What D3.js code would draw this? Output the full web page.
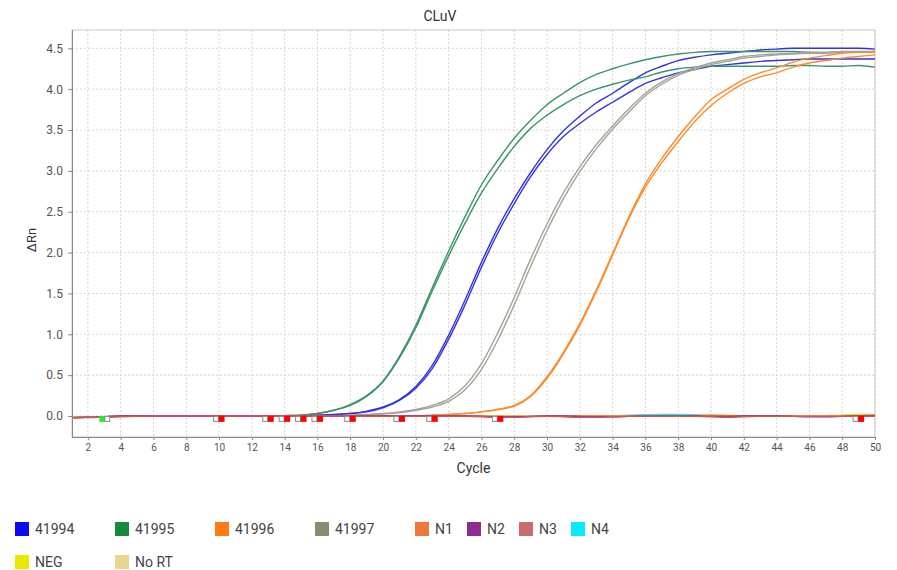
<!DOCTYPE html>
<html>
<head>
<meta charset="utf-8">
<script src="https://cdn.jsdelivr.net/npm/d3@7"></script>
<style>
  html, body { margin: 0; padding: 0; background: #fff; }
  svg { display: block; font-family: Roboto, "Liberation Sans", sans-serif; }
</style>
</head>
<body>
<svg id="chart" width="897" height="570"></svg>
<script>
// ---------- DATA ----------
const cycles = [1,2,3,4,5,6,7,8,9,10,11,12,13,14,15,16,17,18,19,20,21,22,23,24,25,26,27,28,29,30,31,32,33,34,35,36,37,38,39,40,41,42,43,44,45,46,47,48,49,50];
const xTickValues = [2,4,6,8,10,12,14,16,18,20,22,24,26,28,30,32,34,36,38,40,42,44,46,48,50];
const yTickValues = [0,0.5,1,1.5,2,2.5,3,3.5,4,4.5];

const s41994a = [-0.02,-0.015,-0.01,0,0,0,0,0,0,0, 0,0,0,0,0.005,0.01,0.02,0.03,0.06,0.11, 0.2,0.36,0.62,0.99,1.42,1.88,2.3,2.66,2.98,3.26, 3.49,3.67,3.83,3.95,4.08,4.2,4.28,4.35,4.39,4.42, 4.44,4.46,4.48,4.49,4.5,4.5,4.5,4.5,4.5,4.49];
const s41994b = [-0.02,-0.015,-0.01,0,0,0,0,0,0,0, 0,0,0,0,0.005,0.01,0.015,0.03,0.05,0.1, 0.19,0.34,0.58,0.94,1.36,1.82,2.24,2.6,2.93,3.2, 3.42,3.58,3.72,3.84,3.96,4.07,4.14,4.2,4.24,4.28, 4.3,4.32,4.34,4.35,4.36,4.37,4.37,4.37,4.37,4.37];
const s41995a = [-0.02,-0.015,-0.01,0,0,0,0,0,0,0, 0,0,0,0.005,0.01,0.03,0.07,0.14,0.25,0.43, 0.73,1.11,1.57,2.02,2.44,2.83,3.13,3.4,3.62,3.81, 3.95,4.08,4.18,4.25,4.31,4.36,4.4,4.43,4.45,4.46, 4.46,4.46,4.46,4.46,4.46,4.45,4.45,4.45,4.45,4.45];
const s41995b = [-0.02,-0.015,-0.01,0,0,0,0,0,0,0, 0,0,0,0.005,0.01,0.03,0.07,0.13,0.24,0.42, 0.71,1.08,1.53,1.96,2.36,2.73,3.03,3.3,3.52,3.68, 3.81,3.92,4.0,4.06,4.11,4.15,4.21,4.25,4.27,4.28, 4.28,4.28,4.28,4.28,4.29,4.29,4.28,4.28,4.29,4.27];
const s41996a = [-0.02,-0.015,-0.01,0,0,0,0,0,0,0, 0,0,0,0,0,0,0,0,0,0, 0,0,0.01,0.02,0.03,0.05,0.08,0.13,0.25,0.48, 0.78,1.13,1.54,1.99,2.44,2.84,3.15,3.42,3.66,3.87, 4.0,4.12,4.2,4.26,4.33,4.38,4.41,4.44,4.45,4.46];
const s41996b = [-0.02,-0.015,-0.01,0,0,0,0,0,0,0, 0,0,0,0,0,0,0,0,0,0, 0,0,0.01,0.02,0.03,0.05,0.08,0.12,0.24,0.46, 0.76,1.11,1.52,1.97,2.42,2.8,3.1,3.36,3.6,3.8, 3.95,4.07,4.15,4.2,4.27,4.32,4.35,4.38,4.4,4.42];
const s41997a = [-0.02,-0.015,-0.01,0,0,0,0,0,0,0, 0,0,0,0,0,0,0,0.01,0.02,0.03, 0.05,0.08,0.13,0.21,0.37,0.64,1.02,1.45,1.92,2.35, 2.73,3.05,3.32,3.55,3.76,3.95,4.09,4.19,4.26,4.32, 4.36,4.4,4.42,4.43,4.44,4.45,4.45,4.46,4.46,4.46];
const s41997b = [-0.02,-0.015,-0.01,0,0,0,0,0,0,0, 0,0,0,0,0,0,0,0.01,0.015,0.025, 0.04,0.07,0.11,0.18,0.32,0.57,0.93,1.36,1.83,2.27, 2.66,2.99,3.27,3.51,3.72,3.92,4.06,4.17,4.24,4.3, 4.34,4.38,4.4,4.42,4.43,4.44,4.44,4.45,4.45,4.45];
const sN1  = [-0.02,-0.015,-0.01,0,0,0,0,0,0,0, 0,0,0,0,0,0,0,0,0,0, 0,0,0,0,0,0,-0.005,-0.005,-0.005,0, 0,0,0,0,0,0,0,0,0.005,0.01, 0.005,0,0,0,0,0,0,0,0.005,0.01];
const sN2  = [-0.02,-0.015,-0.01,0,0,0,0,0,0,0, 0,0,0,0,0,0,0,0,0,0, 0,0,0,0,0,-0.005,-0.01,-0.01,-0.005,0, 0,-0.005,-0.01,-0.01,-0.005,0,0.005,0.005,0,-0.005, -0.005,0,0,0,-0.005,-0.01,-0.01,-0.005,0,0];
const sN3  = [-0.02,-0.02,-0.015,-0.01,-0.005,0,0,0,0,0, 0,0,0,0,0,0,0,0,-0.005,-0.005, -0.005,-0.005,-0.005,-0.005,-0.005,-0.01,-0.015,-0.015,-0.01,-0.005, -0.01,-0.015,-0.015,-0.01,-0.005,0,0,0,-0.005,-0.01, -0.015,-0.01,-0.005,-0.005,-0.005,-0.005,-0.005,-0.005,-0.005,-0.005];
const sN4  = [-0.02,-0.015,-0.01,0,0,0,0,0,0,0, 0,0,0,0,0,0,0,0,0,0, 0,0,0,0,0,0,0,0,0,0.005, 0.005,0.005,0.005,0.005,0.01,0.015,0.02,0.02,0.015,0.005, 0,0,0,0,0.005,0.005,0.005,0,0,0];
const sNEG = [-0.02,-0.015,-0.01,0,0,0,0,0,0,0, 0.005,0.005,0,0,0,0,0,0,0,0, 0,0,0,0,0,0,0,0,0,0, 0,0,0,0,0,0,0,0,0.005,0.01, 0.01,0.005,0.005,0.005,0,0,0.005,0.01,0.02,0.02];
const sNoRT= [-0.02,-0.015,-0.01,0,0,0,0,0,0,0, 0,0,0,0,0,0,0,0,0,0, 0,0,0,0,0,0,0,0,0,0, 0,0,0,0,0,0,0,0,0,0, 0,0,0,0,0,0,0,0,0.01,0.01];

// baseline / threshold markers (cycle positions)
const markerCycles = [3,10,13,14,15,16,18,21,23,27,49];

// legend names
const legendNames = ["41994","41995","41996","41997","N1","N2","N3","N4","NEG","No RT"];

// ---------- STYLE ----------
const legendColors = ["#0a0af0","#178a3e","#ff7a10","#8a8a6e","#f0783c","#8c2c8c","#c86c6c","#00eefe","#e8e800","#e8d68c"];
const lineColors   = ["#3333e0","#3a9468","#ff8a2a","#a3a397","#f0783c","#8c2c8c","#c85a5a","#22e6f0","#e6e000","#e0cc80"];

const series = [
  {name:"41994", idx:0, reps:[s41994a, s41994b]},
  {name:"41995", idx:1, reps:[s41995a, s41995b]},
  {name:"41997", idx:3, reps:[s41997a, s41997b]},
  {name:"41996", idx:2, reps:[s41996a, s41996b]},
  {name:"N4",  idx:7, reps:[sN4]},
  {name:"NEG", idx:8, reps:[sNEG]},
  {name:"No RT", idx:9, reps:[sNoRT]},
  {name:"N1",  idx:4, reps:[sN1]},
  {name:"N2",  idx:5, reps:[sN2]},
  {name:"N3",  idx:6, reps:[sN3]}
];

// ---------- LAYOUT ----------
const svg = d3.select("#chart");
const plot = {left: 72, right: 875, top: 30, bottom: 437};

const x = d3.scaleLinear().domain([1, 50]).range([plot.left - 0.5, plot.right]);
const y = d3.scaleLinear().domain([-0.257, 4.724]).range([plot.bottom, plot.top]);

// background
svg.append("rect").attr("x",0).attr("y",0).attr("width",897).attr("height",570).attr("fill","#fff");

// gridlines
const grid = svg.append("g");
grid.selectAll("line.vg").data(xTickValues).enter().append("line")
  .attr("x1", d => x(d)).attr("x2", d => x(d))
  .attr("y1", plot.top).attr("y2", plot.bottom)
  .attr("stroke", "#d6d6d6").attr("stroke-width", 1).attr("stroke-dasharray", "2,2");
grid.selectAll("line.hg").data(yTickValues).enter().append("line")
  .attr("x1", plot.left).attr("x2", plot.right)
  .attr("y1", d => y(d)).attr("y2", d => y(d))
  .attr("stroke", "#d6d6d6").attr("stroke-width", 1).attr("stroke-dasharray", "2,2");

// plot frame
svg.append("rect")
  .attr("x", plot.left).attr("y", plot.top)
  .attr("width", plot.right - plot.left).attr("height", plot.bottom - plot.top)
  .attr("fill", "none").attr("stroke", "#c8c8c8").attr("stroke-width", 1);

// axes
const xAxis = d3.axisBottom(x).tickValues(xTickValues).tickSize(3).tickPadding(4).tickFormat(d3.format("d"));
const gx = svg.append("g").attr("transform", `translate(0,${plot.bottom})`).call(xAxis);
gx.select(".domain").attr("stroke", "#888").attr("d", `M${plot.left},0.5H${plot.right}`);
gx.selectAll(".tick line").attr("stroke", "#888");
gx.selectAll(".tick text").attr("fill", "#555").attr("font-size", 10).attr("font-family", "Roboto, sans-serif");

const yAxis = d3.axisLeft(y).tickValues(yTickValues).tickSize(4).tickPadding(5).tickFormat(d3.format(".1f"));
const gy = svg.append("g").attr("transform", `translate(${plot.left},0)`).call(yAxis);
gy.select(".domain").attr("stroke", "#888").attr("d", `M0.5,${plot.top}V${plot.bottom}`);
gy.selectAll(".tick line").attr("stroke", "#888");
gy.selectAll(".tick text").attr("fill", "#555").attr("font-size", 12).attr("font-family", "Roboto, sans-serif");

// clip
svg.append("clipPath").attr("id", "clip").append("rect")
  .attr("x", plot.left).attr("y", plot.top)
  .attr("width", plot.right - plot.left).attr("height", plot.bottom - plot.top);

const line = d3.line()
  .x((d, i) => x(cycles[i]))
  .y(d => y(d))
  .curve(d3.curveMonotoneX);

const lines = svg.append("g").attr("clip-path", "url(#clip)");
series.forEach(s => {
  s.reps.forEach(rep => {
    lines.append("path")
      .attr("d", line(rep))
      .attr("fill", "none")
      .attr("stroke", lineColors[s.idx])
      .attr("stroke-width", 1.4)
      .attr("stroke-linejoin", "round");
  });
});

// markers
const mk = svg.append("g");
markerCycles.forEach((c, i) => {
  const cx = x(c);
  const cy = y(-0.035);
  if (i === 0) {
    mk.append("rect").attr("x", cx - 5).attr("y", cy - 3).attr("width", 6).attr("height", 6).attr("fill", "#22ee22");
    mk.append("rect").attr("x", cx + 0.5).attr("y", cy - 2.5).attr("width", 5).attr("height", 5)
      .attr("fill", "#fff").attr("stroke", "#888").attr("stroke-width", 1);
  } else {
    mk.append("rect").attr("x", cx - 5.5).attr("y", cy - 2.5).attr("width", 5).attr("height", 5)
      .attr("fill", "#fff").attr("stroke", "#888").attr("stroke-width", 1);
    mk.append("rect").attr("x", cx - 0.5).attr("y", cy - 3).attr("width", 6).attr("height", 6).attr("fill", "#ff0000");
  }
});

// title & axis labels
svg.append("text").attr("x", 440).attr("y", 21).attr("text-anchor", "middle")
  .attr("font-size", 14).attr("fill", "#333").text("CLuV");
svg.append("text").attr("transform", `translate(36,240) rotate(-90)`).attr("text-anchor", "middle")
  .attr("font-size", 13).attr("fill", "#333").text("ΔRn");
svg.append("text").attr("x", (plot.left + plot.right) / 2).attr("y", 473).attr("text-anchor", "middle")
  .attr("font-size", 14).attr("fill", "#333").text("Cycle");

// legend
const legendX = [15,115,215,315,415,467,519,571,15,115];
const legendRow = [0,0,0,0,0,0,0,0,1,1];
const lg = svg.append("g");
legendNames.forEach((n, i) => {
  const lx = legendX[i];
  const ly = 522 + legendRow[i] * 33;
  lg.append("rect").attr("x", lx).attr("y", ly).attr("width", 14).attr("height", 14).attr("fill", legendColors[i]);
  lg.append("text").attr("x", lx + 20).attr("y", ly + 12).attr("font-size", 14).attr("fill", "#444").text(n);
});
</script>
</body>
</html>
